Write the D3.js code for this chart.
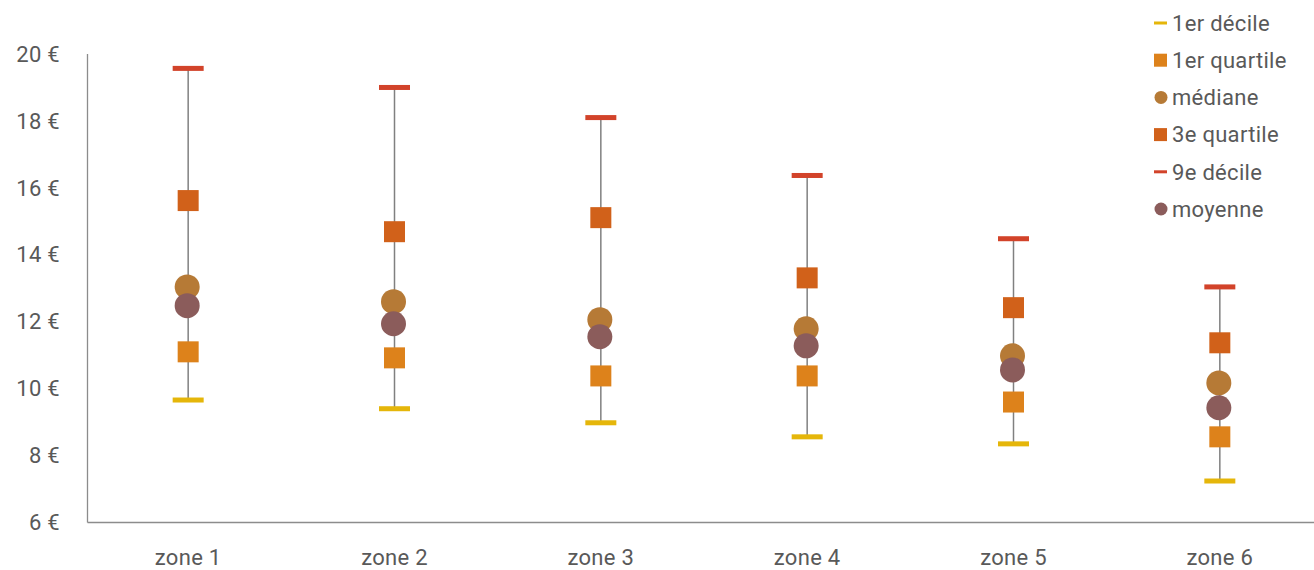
<!DOCTYPE html>
<html><head><meta charset="utf-8">
<script src="https://cdn.jsdelivr.net/npm/d3@7"></script>
<style>body{margin:0;background:#fff;} svg{display:block;font-family:Roboto, "DejaVu Sans", sans-serif;}</style>
</head><body><svg id="c" width="1314" height="570"></svg>
<script>
const categories = ["zone 1","zone 2","zone 3","zone 4","zone 5","zone 6"];
const decile1   = [9.66, 9.40, 8.98, 8.56, 8.35, 7.24];
const quartile1 = [11.10, 10.92, 10.38, 10.38, 9.60, 8.56];
const mediane   = [13.04, 12.60, 12.06, 11.79, 10.98, 10.17];
const quartile3 = [15.62, 14.69, 15.11, 13.31, 12.42, 11.37];
const decile9   = [19.57, 19.00, 18.10, 16.37, 14.48, 13.04];
const moyenne   = [12.48, 11.94, 11.55, 11.28, 10.56, 9.43];
const yTicks = [6, 8, 10, 12, 14, 16, 18, 20];
const seriesNames = ["1er décile","1er quartile","médiane","3e quartile","9e décile","moyenne"];

const colors = {d1:"#E5B60A", q1:"#DD821B", med:"#B67A36", q3:"#D1611A", d9:"#D2432A", moy:"#8B5C5B"};

const svg = d3.select("#c");
const x = d3.scaleBand().domain(categories).range([85, 1323]);
const y = d3.scaleLinear().domain([6, 20]).range([522.5, 54]);
const cx = c => x(c) + x.bandwidth()/2;

// axes lines
svg.append("line").attr("x1",87.5).attr("x2",87.5).attr("y1",y(20)).attr("y2",y(6)).attr("stroke","#8c8c8c").attr("stroke-width",1.3);
svg.append("line").attr("x1",87.5).attr("x2",1314).attr("y1",y(6)).attr("y2",y(6)).attr("stroke","#8c8c8c").attr("stroke-width",1.3);

const txt = sel => sel.attr("fill","#595959").attr("font-size",22).attr("letter-spacing","0.3px");

// y tick labels
svg.selectAll(".yt").data(yTicks).enter().append("text")
  .attr("x",60).attr("y",d=>y(d)).attr("dy","0.35em").attr("text-anchor","end")
  .call(txt).text(d=>d+"\u00a0€");

// x labels
svg.selectAll(".xt").data(categories).enter().append("text")
  .attr("x",cx).attr("y",557).attr("dy","0.35em").attr("text-anchor","middle")
  .call(txt).text(d=>d);

const data = categories.map((c,i)=>({c, d1:decile1[i], q1:quartile1[i], med:mediane[i], q3:quartile3[i], d9:decile9[i], moy:moyenne[i]}));

// whiskers
svg.selectAll(".wh").data(data).enter().append("line")
  .attr("x1",d=>cx(d.c)).attr("x2",d=>cx(d.c)).attr("y1",d=>y(d.d1)).attr("y2",d=>y(d.d9))
  .attr("stroke","#808080").attr("stroke-width",1.5);

function dash(key){
  svg.selectAll(".ds"+key).data(data).enter().append("rect")
    .attr("x",d=>cx(d.c)-15.5).attr("y",d=>y(d[key])-2.5).attr("width",31).attr("height",5)
    .attr("fill",colors[key]);
}
function square(key){
  svg.selectAll(".sq"+key).data(data).enter().append("rect")
    .attr("x",d=>cx(d.c)-10.5).attr("y",d=>y(d[key])-10.5).attr("width",21).attr("height",21)
    .attr("fill",colors[key]);
}
function circle(key){
  svg.selectAll(".ci"+key).data(data).enter().append("circle")
    .attr("cx",d=>cx(d.c)-1).attr("cy",d=>y(d[key])).attr("r",12.5)
    .attr("fill",colors[key]);
}
dash("d1"); square("q1"); circle("med"); square("q3"); dash("d9"); circle("moy");

// legend
const keys = ["d1","q1","med","q3","d9","moy"];
const shapes = ["dash","square","circle","square","dash","circle"];
const lg = svg.append("g");
keys.forEach((k,i)=>{
  const ly = 23 + i*37.2;
  if(shapes[i]==="dash") lg.append("rect").attr("x",1154).attr("y",ly-1.5).attr("width",13).attr("height",3).attr("fill",colors[k]);
  else if(shapes[i]==="square") lg.append("rect").attr("x",1154).attr("y",ly-6.5).attr("width",13).attr("height",13).attr("fill",colors[k]);
  else lg.append("circle").attr("cx",1161).attr("cy",ly).attr("r",6.5).attr("fill",colors[k]);
  lg.append("text").attr("x",1172).attr("y",ly).attr("dy","0.35em").call(txt).text(seriesNames[i]);
});
</script></body></html>
